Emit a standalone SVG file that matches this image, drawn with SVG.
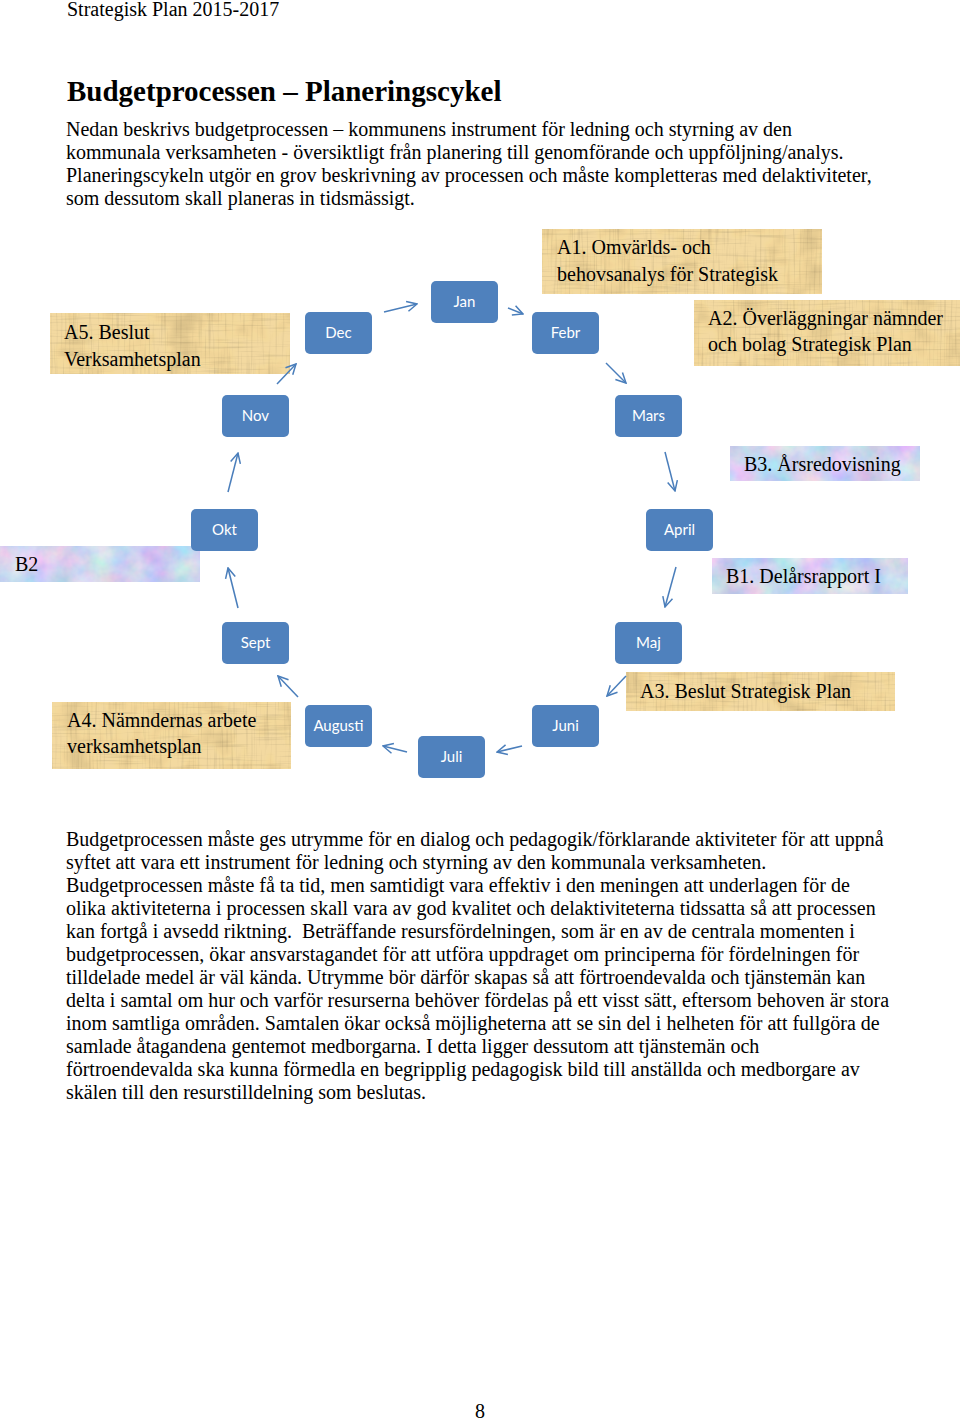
<svg xmlns="http://www.w3.org/2000/svg" width="960" height="1421" viewBox="0 0 960 1421">
<style>
.t{font-family:"Liberation Serif","Times New Roman",serif;font-size:20px;fill:#000}
.h{font-family:"Liberation Serif","Times New Roman",serif;font-size:29px;font-weight:bold;fill:#000}
.m rect{fill:#4f81bd}
.m text{font-family:Lato,"Open Sans",sans-serif;font-size:15px;fill:#fff;text-anchor:middle}
.pap{fill:#f3d9a0;filter:url(#papF)}
.mar{fill:#ccd4f1;filter:url(#marF)}
.c line{stroke:#4a7ebb;stroke-width:1.5;fill:none;marker-end:url(#ah)}
</style>
<defs>
<marker id="ah" viewBox="0 0 12 12" refX="11" refY="6" markerWidth="12" markerHeight="12" markerUnits="userSpaceOnUse" orient="auto">
<path d="M1,1 L11,6 L1,11" fill="none" stroke="#4a7ebb" stroke-width="1.5"/>
</marker>
<filter id="papF" x="0" y="0" width="1" height="1" color-interpolation-filters="sRGB">
<feTurbulence type="fractalNoise" baseFrequency="0.02 0.45" numOctaves="2" seed="2" result="v"/>
<feTurbulence type="fractalNoise" baseFrequency="0.45 0.02" numOctaves="2" seed="9" result="hz"/>
<feTurbulence type="fractalNoise" baseFrequency="0.03" numOctaves="3" seed="4" result="b"/>
<feColorMatrix in="v" type="matrix" values="0.25 0 0 0 0.88 0.25 0 0 0 0.88 0.25 0 0 0 0.88 0 0 0 0 1" result="v2"/>
<feColorMatrix in="hz" type="matrix" values="0.25 0 0 0 0.88 0.25 0 0 0 0.88 0.25 0 0 0 0.88 0 0 0 0 1" result="h2"/>
<feColorMatrix in="b" type="matrix" values="0.3 0 0 0 0.86 0.3 0 0 0 0.85 0.3 0 0 0 0.82 0 0 0 0 1" result="b2"/>
<feBlend in="v2" in2="h2" mode="multiply" result="g"/>
<feBlend in="g" in2="b2" mode="multiply" result="g2"/>
<feBlend in="g2" in2="SourceGraphic" mode="multiply" result="p"/>
<feComposite in="p" in2="SourceGraphic" operator="in"/>
</filter>
<filter id="marF" x="0" y="0" width="1" height="1" color-interpolation-filters="sRGB">
<feTurbulence type="fractalNoise" baseFrequency="0.035" numOctaves="4" seed="5" result="n"/>
<feColorMatrix in="n" type="matrix" values="0.45 0 0 0 0.58 0 0.3 0 0 0.68 0 0 0.15 0 0.86 0 0 0 0 1" result="c"/>
<feComposite in="c" in2="SourceGraphic" operator="in"/>
</filter>
</defs>

<text class="t" x="67" y="16">Strategisk Plan 2015-2017</text>
<text class="h" x="67" y="101">Budgetprocessen – Planeringscykel</text>
<g class="t">
<text x="66" y="136">Nedan beskrivs budgetprocessen – kommunens instrument för ledning och styrning av den</text>
<text x="66" y="159">kommunala verksamheten - översiktligt från planering till genomförande och uppföljning/analys.</text>
<text x="66" y="182">Planeringscykeln utgör en grov beskrivning av processen och måste kompletteras med delaktiviteter,</text>
<text x="66" y="205">som dessutom skall planeras in tidsmässigt.</text>
</g>

<g id="A1"><rect class="pap" x="542" y="229" width="280" height="65"/><text class="t" x="557" y="254">A1. Omvärlds- och</text><text class="t" x="557" y="281">behovsanalys för Strategisk</text></g>
<g id="A2"><rect class="pap" x="694" y="300" width="266" height="66"/><text class="t" x="708" y="325">A2. Överläggningar nämnder</text><text class="t" x="708" y="351">och bolag Strategisk Plan</text></g>
<g id="A5"><rect class="pap" x="50" y="313" width="240" height="61"/><text class="t" x="64" y="339">A5. Beslut</text><text class="t" x="64" y="366">Verksamhetsplan</text></g>
<g id="B3"><rect class="mar" x="730" y="446" width="190" height="35"/><text class="t" x="744" y="471">B3. Årsredovisning</text></g>
<g id="B2"><rect class="mar" x="0" y="546" width="200" height="36"/><text class="t" x="15" y="571">B2</text></g>
<g id="B1"><rect class="mar" x="712" y="558" width="196" height="36"/><text class="t" x="726" y="583">B1. Delårsrapport I</text></g>
<g id="A3"><rect class="pap" x="626" y="672" width="269" height="39"/><text class="t" x="640" y="698">A3. Beslut Strategisk Plan</text></g>
<g id="A4"><rect class="pap" x="52" y="702" width="239" height="67"/><text class="t" x="67" y="727">A4. Nämndernas arbete</text><text class="t" x="67" y="753">verksamhetsplan</text></g>

<g id="jan" class="m"><rect x="431" y="281" width="67" height="42" rx="5"/><text x="464.5" y="307">Jan</text></g>
<g id="dec" class="m"><rect x="305" y="312" width="67" height="42" rx="5"/><text x="338.5" y="338">Dec</text></g>
<g id="febr" class="m"><rect x="532" y="312" width="67" height="42" rx="5"/><text x="565.5" y="338">Febr</text></g>
<g id="nov" class="m"><rect x="222" y="395" width="67" height="42" rx="5"/><text x="255.5" y="421">Nov</text></g>
<g id="mars" class="m"><rect x="615" y="395" width="67" height="42" rx="5"/><text x="648.5" y="421">Mars</text></g>
<g id="okt" class="m"><rect x="191" y="509" width="67" height="42" rx="5"/><text x="224.5" y="535">Okt</text></g>
<g id="april" class="m"><rect x="646" y="509" width="67" height="42" rx="5"/><text x="679.5" y="535">April</text></g>
<g id="sept" class="m"><rect x="222" y="622" width="67" height="42" rx="5"/><text x="255.5" y="648">Sept</text></g>
<g id="maj" class="m"><rect x="615" y="622" width="67" height="42" rx="5"/><text x="648.5" y="648">Maj</text></g>
<g id="augusti" class="m"><rect x="305" y="705" width="67" height="42" rx="5"/><text x="338.5" y="731">Augusti</text></g>
<g id="juli" class="m"><rect x="418" y="736" width="67" height="42" rx="5"/><text x="451.5" y="762">Juli</text></g>
<g id="juni" class="m"><rect x="532" y="705" width="67" height="42" rx="5"/><text x="565.5" y="731">Juni</text></g>

<g id="connectors" class="c">
<line x1="384" y1="312" x2="417" y2="304"/>
<line x1="508" y1="308" x2="523" y2="314"/>
<line x1="606" y1="363" x2="626" y2="383"/>
<line x1="665" y1="452" x2="675" y2="491"/>
<line x1="676" y1="567" x2="665" y2="607"/>
<line x1="626" y1="676" x2="607" y2="696"/>
<line x1="522" y1="746" x2="497" y2="752"/>
<line x1="407" y1="752" x2="383" y2="746"/>
<line x1="298" y1="697" x2="278" y2="676"/>
<line x1="238" y1="608" x2="228" y2="568"/>
<line x1="228" y1="492" x2="238" y2="453"/>
<line x1="277" y1="384" x2="296" y2="364"/>
</g>

<g class="t">
<text x="66" y="846">Budgetprocessen måste ges utrymme för en dialog och pedagogik/förklarande aktiviteter för att uppnå</text>
<text x="66" y="869">syftet att vara ett instrument för ledning och styrning av den kommunala verksamheten.</text>
<text x="66" y="892">Budgetprocessen måste få ta tid, men samtidigt vara effektiv i den meningen att underlagen för de</text>
<text x="66" y="915">olika aktiviteterna i processen skall vara av god kvalitet och delaktiviteterna tidssatta så att processen</text>
<text x="66" y="938" xml:space="preserve">kan fortgå i avsedd riktning.  Beträffande resursfördelningen, som är en av de centrala momenten i</text>
<text x="66" y="961">budgetprocessen, ökar ansvarstagandet för att utföra uppdraget om principerna för fördelningen för</text>
<text x="66" y="984">tilldelade medel är väl kända. Utrymme bör därför skapas så att förtroendevalda och tjänstemän kan</text>
<text x="66" y="1007">delta i samtal om hur och varför resurserna behöver fördelas på ett visst sätt, eftersom behoven är stora</text>
<text x="66" y="1030">inom samtliga områden. Samtalen ökar också möjligheterna att se sin del i helheten för att fullgöra de</text>
<text x="66" y="1053">samlade åtagandena gentemot medborgarna. I detta ligger dessutom att tjänstemän och</text>
<text x="66" y="1076">förtroendevalda ska kunna förmedla en begripplig pedagogisk bild till anställda och medborgare av</text>
<text x="66" y="1099">skälen till den resurstilldelning som beslutas.</text>
</g>
<text class="t" x="480" y="1418" text-anchor="middle">8</text>
</svg>
